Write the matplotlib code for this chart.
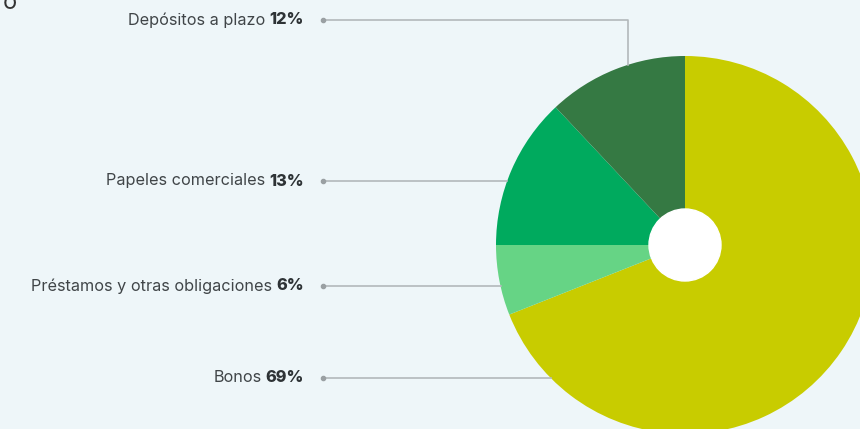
import matplotlib
matplotlib.use('Agg')
import numpy as np
from matplotlib import pyplot as plt

# composition data
labels = ['Bonos', 'Préstamos y otras obligaciones', 'Papeles comerciales', 'Depósitos a plazo']
shares = [69, 6, 13, 12]
colors = ['#C8CC00', '#66D485', '#00AA5E', '#357943']
label_y = [378, 286, 181, 20]

bg = '#EEF6F9'
txt = '#404548'
line_c = '#B3B8BB'

W, H = 860, 429
cx, cy, r = 685, 245, 189
hole = 36

def fy(y):
    # pixel row (from top) to data y
    return H - y

plt.rcParams['font.family'] = ['Inter', 'DejaVu Sans']

fig = plt.figure(figsize=(W / 100, H / 100), dpi=100, facecolor=bg)
ax = fig.add_axes([0, 0, 1, 1])
ax.set_facecolor(bg)

ax.pie(shares, colors=colors, startangle=90, counterclock=False,
       center=(cx, fy(cy)), radius=r, wedgeprops=dict(linewidth=0))
ax.add_patch(plt.Circle((cx, fy(cy)), hole, color='white', zorder=5))

ax.set_xlim(0, W)
ax.set_ylim(0, H)
ax.set_aspect('auto')
ax.axis('off')

# leader lines
x0 = 323
for lab, y in zip(labels, label_y):
    if lab == 'Depósitos a plazo':
        xe = 628
        ye = cy - np.sqrt(r ** 2 - (xe - cx) ** 2)
        ax.plot([x0, xe, xe], [fy(y), fy(y), fy(ye)], color=line_c, lw=1.2, zorder=1)
    else:
        xe = cx - np.sqrt(r ** 2 - (y - cy) ** 2)
        ax.plot([x0, xe], [fy(y), fy(y)], color=line_c, lw=1.2, zorder=1)
    ax.plot([x0], [fy(y)], 'o', color='#9AA0A3', ms=3, zorder=2)

# labels: regular name followed by bold share
fs = 11.7
fig.canvas.draw()
rend = fig.canvas.get_renderer()
for lab, val, y in zip(labels, shares, label_y):
    b = ax.text(304, fy(y), f'{val}%', ha='right', va='center', fontsize=fs,
                fontweight='heavy', color='#2E3336')
    bb = b.get_window_extent(renderer=rend)
    left = ax.transData.inverted().transform((bb.x0, 0))[0]
    ax.text(left - 4, fy(y), lab, ha='right', va='center', fontsize=fs, color=txt)

fig.text(3 / W, 1 - 9 / H, 'o', ha='left', va='baseline', fontsize=17, color='#333333')

fig.savefig('out.png', dpi=100, facecolor=bg)
